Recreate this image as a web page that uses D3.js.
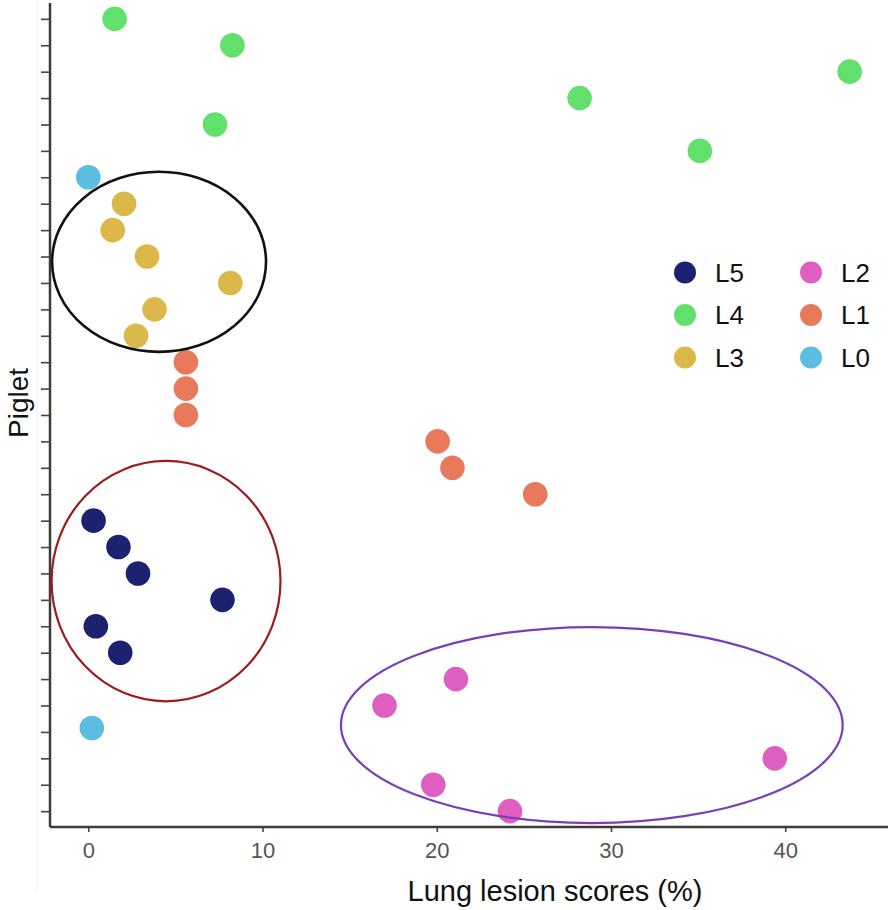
<!DOCTYPE html>
<html>
<head>
<meta charset="utf-8">
<script src="https://cdn.jsdelivr.net/npm/d3@7/dist/d3.min.js"></script>
<style>
  html, body { margin: 0; padding: 0; background: #fff; }
  svg { display: block; font-family: "Liberation Sans", Arial, sans-serif; }
</style>
</head>
<body>
<svg id="chart" width="892" height="910"></svg>
<script>
// ---- data ----
const groups = ["L5", "L4", "L3", "L2", "L1", "L0"];
const groupColors = ["#1c2170", "#62e06c", "#dcb84a", "#de5fc0", "#e8795a", "#5bbee0"];

// piglet index (1 = bottom) and lung lesion score (%)
const pigletL5 = [7, 8, 9, 10, 11, 12];
const scoreL5 = [1.83, 0.43, 7.7, 2.85, 1.73, 0.3];
const pigletL4 = [26, 27, 28, 29, 30, 31];
const scoreL4 = [35.1, 7.27, 28.2, 43.7, 8.27, 1.51];
const pigletL3 = [19, 20, 21, 22, 23, 24];
const scoreL3 = [2.74, 3.8, 8.15, 3.37, 1.4, 2.05];
const pigletL2 = [1, 2, 3, 5, 6];
const scoreL2 = [24.2, 19.8, 39.4, 17.0, 21.1];
const pigletL1 = [13, 14, 15, 16, 17, 18];
const scoreL1 = [25.65, 20.9, 20.05, 5.6, 5.6, 5.6];
const pigletL0 = [4.15, 25];
const scoreL0 = [0.2, 0.0];

const xTicks = [0, 10, 20, 30, 40];
const yTicks = d3.range(1, 32);

// cluster ellipses: centre (score, piglet) and radii in data units
const ellipseCx = [4.06, 4.46, 28.9];
const ellipseCy = [21.8, 9.71, 4.26];
const ellipseRx = [6.14, 6.57, 14.4];
const ellipseRy = [3.41, 4.55, 3.71];
const ellipseColors = ["#111111", "#9b1c1f", "#7b3db8"];

const xLabel = "Lung lesion scores (%)";
const yLabel = "Piglet";

// ---- build ----
const seriesPiglet = { L5: pigletL5, L4: pigletL4, L3: pigletL3, L2: pigletL2, L1: pigletL1, L0: pigletL0 };
const seriesScore = { L5: scoreL5, L4: scoreL4, L3: scoreL3, L2: scoreL2, L1: scoreL1, L0: scoreL0 };
const points = [];
groups.forEach(g => seriesPiglet[g].forEach((p, i) => points.push({ g, piglet: p, score: seriesScore[g][i] })));

const color = d3.scaleOrdinal().domain(groups).range(groupColors);
const x = d3.scaleLinear().domain([-2.2, 45.9]).range([50, 888]);
const y = d3.scaleLinear().domain([0.4, 31.6]).range([827, 3]);

const svg = d3.select("#chart");

// faint image border artifacts
svg.append("line").attr("x1", 37).attr("x2", 37).attr("y1", 0).attr("y2", 893)
  .attr("stroke", "#f0f0f0").attr("stroke-width", 1);

// y axis
const yAxis = svg.append("g").attr("transform", "translate(50,0)")
  .call(d3.axisLeft(y).tickValues(yTicks).tickSize(9).tickFormat(""));
yAxis.select(".domain").attr("d", `M0,${y.range()[1]}V${y.range()[0]}`)
  .attr("stroke", "#3c3c34").attr("stroke-width", 2.5);
yAxis.selectAll(".tick line").attr("stroke", "#444").attr("stroke-width", 1.6);

// x axis
const xAxis = svg.append("g").attr("transform", "translate(0,827)")
  .call(d3.axisBottom(x).tickValues(xTicks).tickSize(5).tickPadding(10).tickFormat(d3.format("d")));
xAxis.select(".domain").attr("d", `M${x.range()[0]},0H${x.range()[1]}`)
  .attr("stroke", "#3c3c34").attr("stroke-width", 2.5);
xAxis.selectAll(".tick line").attr("stroke", "#444").attr("stroke-width", 1.6);
xAxis.selectAll(".tick text").attr("fill", "#555").attr("font-size", 22)
  .attr("font-family", "Liberation Sans, Arial, sans-serif").attr("dy", "0.71em");

// axis titles
svg.append("text").attr("x", 555).attr("y", 901).attr("text-anchor", "middle")
  .attr("font-size", 29).attr("fill", "#111").text(xLabel);
svg.append("text").attr("transform", "translate(28,403) rotate(-90)").attr("text-anchor", "middle")
  .attr("font-size", 28).attr("fill", "#111").text(yLabel);

// points
svg.append("g").selectAll("circle").data(points).join("circle")
  .attr("cx", d => x(d.score)).attr("cy", d => y(d.piglet)).attr("r", 12.3)
  .attr("fill", d => color(d.g));

// ellipses
svg.append("g").selectAll("ellipse").data(ellipseCx.map((c, i) => i)).join("ellipse")
  .attr("cx", i => x(ellipseCx[i])).attr("cy", i => y(ellipseCy[i]))
  .attr("rx", i => x(ellipseRx[i]) - x(0)).attr("ry", i => y(0) - y(ellipseRy[i]))
  .attr("fill", "none").attr("stroke", i => ellipseColors[i])
  .attr("stroke-width", (d, i) => i === 0 ? 2.6 : 2.2);

// legend
const legend = svg.append("g");
const legItems = legend.selectAll("g").data(groups).join("g")
  .attr("transform", (d, i) => `translate(${685 + Math.floor(i / 3) * 126},${272.5 + (i % 3) * 42.5})`);
legItems.append("circle").attr("r", 11).attr("fill", d => color(d));
legItems.append("text").attr("x", 30).attr("dy", "0.36em").attr("font-size", 26)
  .attr("fill", "#111").text(d => d);
</script>
</body>
</html>
